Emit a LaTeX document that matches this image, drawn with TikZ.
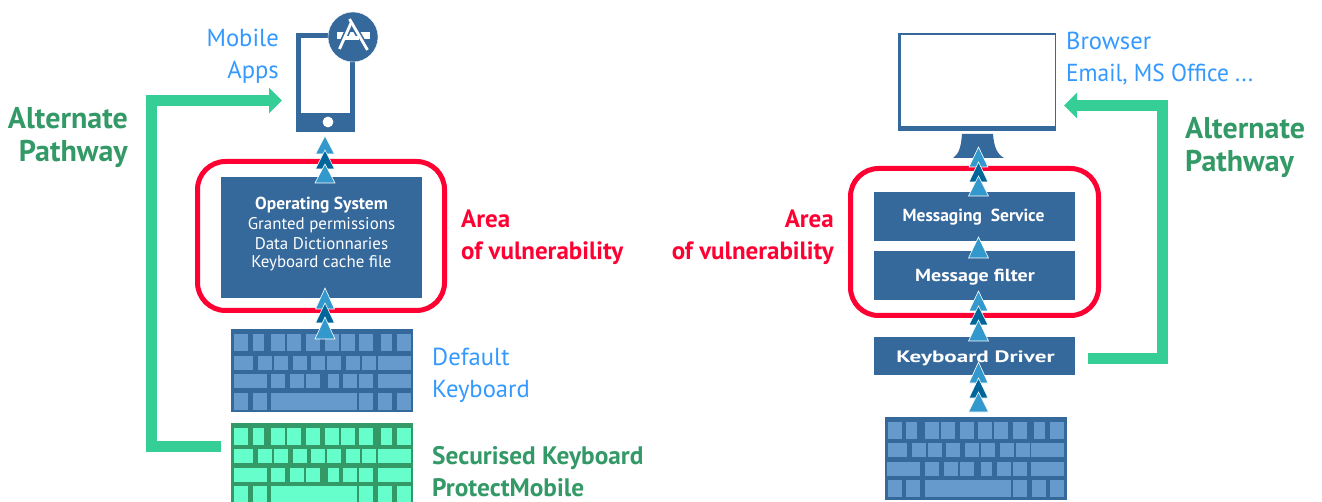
\documentclass[tikz,border=0pt]{standalone}
\usepackage{fontspec}
\setmainfont{PT Sans}
\usetikzlibrary{arrows.meta}
\definecolor{boxblue}{HTML}{35689B}
\definecolor{keyblue}{HTML}{6699CC}
\definecolor{keygreen}{HTML}{66FFCC}
\definecolor{kbgreen}{HTML}{339966}
\definecolor{pathgreen}{HTML}{35CE97}
\definecolor{textblue}{HTML}{3399FF}
\definecolor{alertred}{HTML}{FF0033}
\definecolor{arrowlight}{HTML}{3399CC}
\definecolor{arrowdark}{HTML}{006699}
\tikzset{
  box/.style={fill=boxblue,inner sep=0pt,minimum width=201pt},
  boxtext/.style={text=white,inner sep=0pt,anchor=base,align=center,font=\fontsize{16.9}{19}\selectfont},
  boxhead/.style={text=white,inner sep=0pt,anchor=base,font=\fontsize{17.5}{19}\selectfont\bfseries},
  zone/.style={draw=alertred,line width=5pt,rounded corners=28pt},
  kbd/.style={inner sep=0pt,minimum width=182pt,minimum height=83pt},
  pathway/.style={draw=pathgreen,line width=10.5pt,-{Triangle[length=13pt,width=25pt]}},
  bluelabel/.style={text=textblue,inner sep=0pt,font=\fontsize{24.6}{32}\selectfont},
  greenlabel/.style={text=kbgreen,inner sep=0pt,font=\fontsize{25.3}{32}\selectfont\bfseries},
  altlabel/.style={text=kbgreen,inner sep=0pt,font=\fontsize{30}{32.5}\selectfont\bfseries},
  redlabel/.style={text=alertred,inner sep=0pt,font=\fontsize{25}{32}\selectfont\bfseries},
}
% one row of keys: origin x, origin y, top, bottom, list of left/right (3x pixels)
\newcommand{\keyrow}[5]{\foreach \a/\b in {#5}{\fill (#1+\a/3,#2+#3/3) rectangle (#1+\b/3,#2+#4/3);}}
% triangle: x, apex y, base y, half width, colour
\newcommand{\tri}[5]{\filldraw[fill=#5,draw=white,line width=0.6pt] (#1,#2) -- (#1+#4,#3) -- (#1-#4,#3) -- cycle;}
\newcommand{\triple}[7]{%
  \tri{#1}{#2}{#3}{9.5}{arrowlight}
  \tri{#1}{#4}{#5}{9.5}{arrowdark}
  \tri{#1}{#6}{#7}{10}{arrowlight}}
\begin{document}
\begin{tikzpicture}[x=1pt,y=-1pt]
\clip (0,0) rectangle (1322,502);
\fill[white] (0,0) rectangle (1322,502);

% ---------- left: phone
\node[fill=boxblue,inner sep=0pt,minimum width=59pt,minimum height=99pt] (phone) at (325.5,82.5) {};
\fill[white] (301,38) rectangle (350,113);
\fill[white] (328,122) circle (5.4);
\node[fill=boxblue,circle,inner sep=0pt,minimum size=50pt,draw=white,line width=0.4pt] (appicon) at (353,37) {};
\fill[white] (337,32.5) rectangle (370,39.5);
\draw[boxblue,line width=6pt] (351.5,22) -- (339.5,49);
\draw[boxblue,line width=6pt] (351,22) -- (367.5,50);
\fill[white] (345,36) rectangle (359,40);
\draw[white,line width=2.8pt] (351.5,22) -- (339.5,49);
\draw[white,line width=2.8pt] (349.5,19) -- (367.5,50);

% ---------- left: vulnerable zone
\draw[zone] (197.5,161.5) rectangle (444.5,310.5);
\node[box,minimum height=121pt] (os) at (321.5,237.5) {};
\node[boxtext] (ostext) at (321.5,267.5) {{\fontsize{17.45}{19}\selectfont\bfseries Operating System}\\[1pt]Granted permissions\\[1pt]Data Dictionnaries\\[-1pt]Keyboard cache file};

% ---------- left: keyboards
\node[kbd,fill=boxblue] (kb1) at (322,370.5) {};
\begin{scope}[keyblue]
\keyrow{231}{329}{15}{66}{9/51,66/99,120/162,168/210,225/267,282/324,330/372,384/426,450/483,498/540}
\keyrow{231}{329}{81}{123}{9/66,81/123,129/171,186/228,240/282,288/330,345/387,393/435,441/540}
\keyrow{231}{329}{135}{177}{9/108,120/162,177/219,225/267,291/324,336/378,384/426,441/540}
\keyrow{231}{329}{192}{243}{9/51,66/108,120/378,384/426,441/483,498/540}
\end{scope}
\node[kbd,fill=kbgreen] (kb2) at (322,464.5) {};
\begin{scope}[keygreen]
\keyrow{231}{423.3}{14}{65}{9/51,66/99,120/162,168/210,225/267,282/324,330/372,384/426,450/483,498/540}
\keyrow{231}{423.3}{77}{119}{9/66,81/123,129/171,186/228,240/282,288/330,345/387,393/435,441/540}
\keyrow{231}{423.3}{134}{176}{9/108,120/162,177/219,225/267,291/324,336/378,384/426,441/540}
\keyrow{231}{423.3}{188}{239}{9/51,66/108,120/378,384/426,441/483,498/540}
\end{scope}

% ---------- left: arrows
\triple{325}{136}{154}{150}{169}{164}{183}
\triple{325}{288}{309}{303}{323}{317}{339}

% ---------- left: alternate pathway
\coordinate (leftturn) at (151.5,100.5);
\coordinate (phoneend) at (282,100.5);
\coordinate (kb2port) at (221,446.5);
\draw[pathway,line cap=butt] (kb2port) -- (kb2port -| leftturn) -- (leftturn) -- (phoneend);

% ---------- left: labels
\node[bluelabel,anchor=base east,align=right] (mobile) at (279,78.5) {Mobile\\Apps};
\node[altlabel,anchor=base east,align=right] (alt1) at (128,161.5) {Alternate\\Pathway};
\node[redlabel,anchor=base west,align=left] (area1) at (461,260) {Area\\of vulnerability};
\node[bluelabel,anchor=base west,align=left] (defkb) at (432,397) {Default\\Keyboard};
\node[greenlabel,anchor=base west,align=left] (sec) at (432,496) {Securised Keyboard\\ProtectMobile};

% ---------- right: monitor
\node[fill=boxblue,inner sep=0pt,minimum width=158pt,minimum height=98pt] (monitor) at (977,82) {};
\fill[white] (900.5,35.5) rectangle (1054.5,126);
\fill[boxblue] (962,134) -- (993,134) .. controls (994,147) and (997,154) .. (1004,158) -- (953,158) .. controls (959,154) and (961,147) .. (962,134) -- cycle;

% ---------- right: vulnerable zone
\draw[zone] (850.5,168.5) rectangle (1098.5,315.5);
\node[box,minimum height=49pt] (msgsvc) at (974.5,216.5) {};
\node[boxhead] (msgsvctext) at (973.5,221.5) {Messaging\ \ Service};
\node[box,minimum height=49pt] (msgflt) at (974.5,275.5) {};
\node[boxhead] (msgflttext) at (975,281.5) {\scalebox{1.14}[1]{Message filter}};
\node[box,minimum height=38pt] (driver) at (974.5,356) {};
\node[boxhead,font=\fontsize{16.5}{19}\selectfont\bfseries] (drivertext) at (975.5,362.5) {\scalebox{1.4}[1]{Keyboard Driver}};

% ---------- right: keyboard
\node[kbd,fill=boxblue] (kb3) at (976,458.5) {};
\begin{scope}[keyblue]
\keyrow{885}{417}{15}{66}{9/51,63/96,120/162,168/210,225/267,279/321,327/369,384/426,447/480,495/537}
\keyrow{885}{417}{78}{120}{9/66,81/123,129/171,183/225,240/282,288/330,345/387,393/435,438/537}
\keyrow{885}{417}{135}{177}{6/105,120/162,177/219,225/267,288/321,336/378,384/426,438/537}
\keyrow{885}{417}{189}{240}{9/51,63/105,120/378,384/426,441/483,495/537}
\end{scope}

% ---------- right: arrows
\triple{978.5}{147}{167}{162}{182}{176}{196}
\tri{978.5}{237}{258}{10}{arrowlight}
\triple{978.5}{291}{311}{306}{325}{320}{341}
\triple{978.5}{362}{383}{378}{398}{392}{412}

% ---------- right: alternate pathway
\coordinate (driverport) at (1088,358.5);
\coordinate (rightturn) at (1162.5,105.5);
\coordinate (monitorend) at (1064,105.5);
\draw[pathway,line cap=butt] (driverport) -- (driverport -| rightturn) -- (rightturn) -- (monitorend);

% ---------- right: labels
\node[bluelabel,anchor=base west,align=left] (browser) at (1066,81.7) {Browser\\\scalebox{0.95}[1]{Email, MS Office .{}.{}.}};
\node[altlabel,anchor=base west,align=left] (alt2) at (1185,171.5) {Alternate\\Pathway};
\node[redlabel,anchor=base east,align=right] (area2) at (834,260) {Area\\of vulnerability};
\end{tikzpicture}
\end{document}
